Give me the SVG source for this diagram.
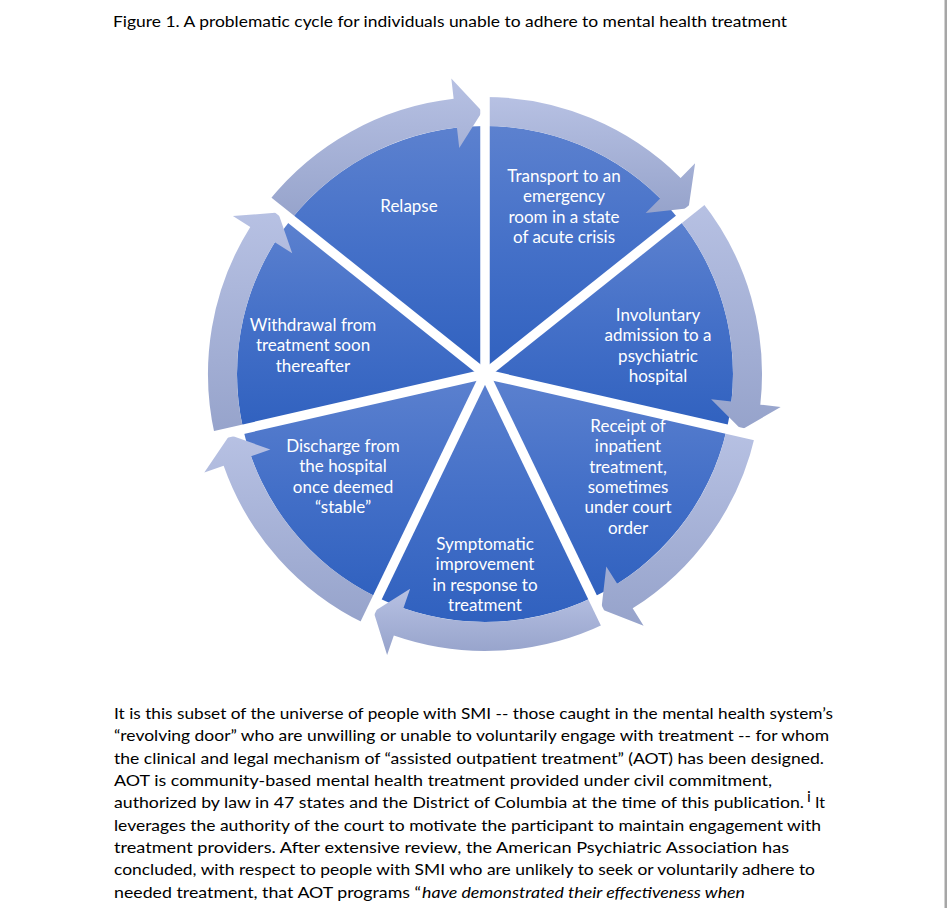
<svg xmlns="http://www.w3.org/2000/svg" width="947" height="908" viewBox="0 0 947 908">
<style>
.slice{fill:url(#pg)}
.arrow{fill:url(#ag)}
.gap{stroke:#ffffff;stroke-width:9.5;stroke-linecap:butt}
.lbl{font-family:Lato,"Liberation Sans",sans-serif;font-size:17px;fill:#ffffff;text-anchor:middle}
.body{font-family:Lato,"Liberation Sans",sans-serif;font-size:16px;fill:#000000}
</style>
<defs>
<linearGradient id="pg" x1="0" y1="0" x2="0" y2="1">
<stop offset="0" stop-color="#5c81cf"/>
<stop offset="0.5" stop-color="#4470c8"/>
<stop offset="1" stop-color="#3061bf"/>
</linearGradient>
<linearGradient id="ag" x1="0" y1="0" x2="0" y2="1">
<stop offset="0" stop-color="#b7c1e3"/>
<stop offset="1" stop-color="#96a3cb"/>
</linearGradient>
</defs>
<rect x="0" y="0" width="947" height="908" fill="#ffffff"/>
<rect x="944.5" y="0" width="2.5" height="908" fill="#a6a6a6"/>
<text class="body" x="113" y="27" font-size="15.5" textLength="674" lengthAdjust="spacingAndGlyphs">Figure 1. A problematic cycle for individuals unable to adhere to mental health treatment</text>

<g id="node-transport">
<path class="slice" d="M485,374 L485,126 A248,248 0 0 1 678.89,219.37 Z"/>
<text class="lbl"><tspan x="564" y="182">Transport to an</tspan><tspan x="564" y="202.3">emergency</tspan><tspan x="564" y="222.6">room in a state</tspan><tspan x="564" y="243">of acute crisis</tspan></text>
</g>
<g id="node-involuntary">
<path class="slice" d="M485,374 L678.89,219.37 A248,248 0 0 1 726.78,429.18 Z"/>
<text class="lbl"><tspan x="658" y="321">Involuntary</tspan><tspan x="658" y="341.3">admission to a</tspan><tspan x="658" y="361.6">psychiatric</tspan><tspan x="658" y="382">hospital</tspan></text>
</g>
<g id="node-receipt">
<path class="slice" d="M485,374 L726.78,429.18 A248,248 0 0 1 592.60,597.44 Z"/>
<text class="lbl"><tspan x="628" y="432">Receipt of</tspan><tspan x="628" y="452.3">inpatient</tspan><tspan x="628" y="472.6">treatment,</tspan><tspan x="628" y="493">sometimes</tspan><tspan x="628" y="513.3">under court</tspan><tspan x="628" y="533.6">order</tspan></text>
</g>
<g id="node-symptomatic">
<path class="slice" d="M485,374 L592.60,597.44 A248,248 0 0 1 377.40,597.44 Z"/>
<text class="lbl"><tspan x="485" y="550">Symptomatic</tspan><tspan x="485" y="570.3">improvement</tspan><tspan x="485" y="590.6">in response to</tspan><tspan x="485" y="611">treatment</tspan></text>
</g>
<g id="node-discharge">
<path class="slice" d="M485,374 L377.40,597.44 A248,248 0 0 1 243.22,429.18 Z"/>
<text class="lbl"><tspan x="343" y="452">Discharge from</tspan><tspan x="343" y="472.3">the hospital</tspan><tspan x="343" y="492.6">once deemed</tspan><tspan x="343" y="513">“stable”</tspan></text>
</g>
<g id="node-withdrawal">
<path class="slice" d="M485,374 L243.22,429.18 A248,248 0 0 1 291.11,219.37 Z"/>
<text class="lbl"><tspan x="313" y="331">Withdrawal from</tspan><tspan x="313" y="351.3">treatment soon</tspan><tspan x="313" y="371.6">thereafter</tspan></text>
</g>
<g id="node-relapse">
<path class="slice" d="M485,374 L291.11,219.37 A248,248 0 0 1 485,126 Z"/>
<text class="lbl" x="409" y="212">Relapse</text>
</g>

<g id="connectors">
<path class="arrow" d="M485,97 A277,277 0 0 1 680.63,177.89 L695.10,163.37 L688.51,208.19 L645.67,212.93 L660.15,198.42 A248,248 0 0 0 485,126 Z"/>
<path class="arrow" d="M701.57,201.29 A277,277 0 0 1 760.30,404.67 L780.67,406.94 L741.52,429.73 L711.10,399.19 L731.47,401.46 A248,248 0 0 0 678.89,219.37 Z"/>
<path class="arrow" d="M755.06,435.64 A277,277 0 0 1 632.67,608.36 L643.59,625.71 L601.37,609.30 L606.28,566.48 L617.21,583.83 A248,248 0 0 0 726.78,429.18 Z"/>
<path class="arrow" d="M605.18,623.57 A277,277 0 0 1 393.84,635.57 L387.09,654.93 L373.59,611.69 L410.13,588.83 L403.38,608.19 A248,248 0 0 0 592.60,597.44 Z"/>
<path class="arrow" d="M364.82,623.57 A277,277 0 0 1 223.65,465.81 L204.31,472.61 L229.71,435.09 L270.36,449.41 L251.01,456.20 A248,248 0 0 0 377.40,597.44 Z"/>
<path class="arrow" d="M214.94,435.64 A277,277 0 0 1 250.27,226.92 L232.90,216.03 L278.07,212.49 L292.22,253.20 L274.85,242.32 A248,248 0 0 0 243.22,429.18 Z"/>
<path class="arrow" d="M268.43,201.29 A277,277 0 0 1 453.64,98.78 L451.32,78.41 L482.25,111.51 L459.25,147.96 L456.93,127.59 A248,248 0 0 0 291.11,219.37 Z"/>
</g>

<g id="gaps">
<line class="gap" x1="485" y1="374" x2="485" y2="69"/>
<line class="gap" x1="485" y1="374" x2="723.46" y2="183.84"/>
<line class="gap" x1="485" y1="374" x2="782.35" y2="441.87"/>
<line class="gap" x1="485" y1="374" x2="617.33" y2="648.80"/>
<line class="gap" x1="485" y1="374" x2="352.67" y2="648.80"/>
<line class="gap" x1="485" y1="374" x2="187.65" y2="441.87"/>
<line class="gap" x1="485" y1="374" x2="246.54" y2="183.84"/>
</g>

<g id="body-text">
<text class="body" x="114" y="719" textLength="719" lengthAdjust="spacingAndGlyphs">It is this subset of the universe of people with SMI -- those caught in the mental health system’s</text>
<text class="body" x="114" y="741.3" textLength="715" lengthAdjust="spacingAndGlyphs">“revolving door” who are unwilling or unable to voluntarily engage with treatment -- for whom</text>
<text class="body" x="114" y="763.6" textLength="710" lengthAdjust="spacingAndGlyphs">the clinical and legal mechanism of “assisted outpatient treatment” (AOT) has been designed.</text>
<text class="body" x="114" y="786" textLength="658" lengthAdjust="spacingAndGlyphs">AOT is community-based mental health treatment provided under civil commitment,</text>
<text class="body" x="114" y="808.3" textLength="690" lengthAdjust="spacingAndGlyphs">authorized by law in 47 states and the District of Columbia at the time of this publication.</text>
<text class="body" x="807" y="802" font-size="8.5">i</text>
<text class="body" x="815" y="808.3">It</text>
<text class="body" x="114" y="830.7" textLength="707" lengthAdjust="spacingAndGlyphs">leverages the authority of the court to motivate the participant to maintain engagement with</text>
<text class="body" x="114" y="853" textLength="675" lengthAdjust="spacingAndGlyphs">treatment providers. After extensive review, the American Psychiatric Association has</text>
<text class="body" x="114" y="875.4" textLength="701" lengthAdjust="spacingAndGlyphs">concluded, with respect to people with SMI who are unlikely to seek or voluntarily adhere to</text>
<text class="body" x="114" y="897.7" textLength="307" lengthAdjust="spacingAndGlyphs">needed treatment, that AOT programs “</text>
<text class="body" x="422" y="897.7" font-style="italic" textLength="323" lengthAdjust="spacingAndGlyphs">have demonstrated their effectiveness when</text>
</g>
</svg>
